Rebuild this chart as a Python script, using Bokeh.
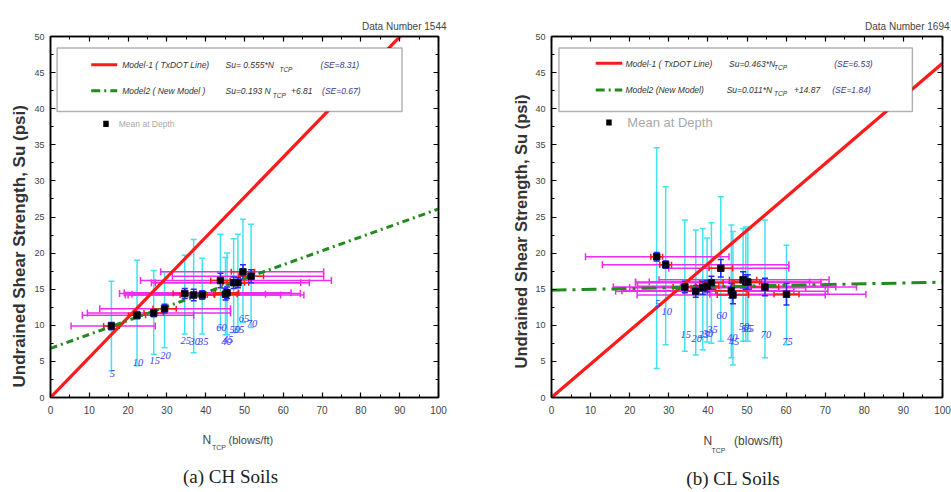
from bokeh.plotting import figure
from bokeh.layouts import row, column
from bokeh.models import (ColumnDataSource, Whisker, TeeHead, Label, LabelSet,
                          LinearAxis, Range1d, FixedTicker, CustomJSTickFormatter,
                          BoxAnnotation, Arrow, Title)
from bokeh.embed import file_html
from bokeh.resources import INLINE

FONT = "Liberation Sans"
SERIF = "Liberation Serif"

# ---------------- (a) CH soils ----------------
depth_ch = [5, 10, 15, 20, 25, 30, 35, 40, 45, 50, 55, 60, 65, 70]
n_ch = [15.7, 22.3, 26.6, 29.4, 34.6, 36.9, 39.1, 45.1, 45.5, 47.2, 48.3, 43.8, 49.6, 51.7]
su_ch = [9.9, 11.4, 11.7, 12.3, 14.4, 14.2, 14.2, 14.3, 14.5, 15.9, 15.9, 16.2, 17.4, 16.8]
su_lo_ch = [3.7, 4.4, 6.0, 6.9, 8.8, 6.2, 8.8, 8.7, 8.7, 9.0, 9.5, 9.7, 10.4, 9.7]
su_hi_ch = [16.1, 19.0, 17.6, 17.4, 19.7, 21.9, 19.3, 19.4, 20.0, 22.0, 22.6, 22.6, 24.7, 24.0]
n_lo_ch = [5.3, 8.2, 9.5, 12.7, 17.8, 19.3, 20.0, 21.0, 19.0, 26.0, 27.0, 23.2, 28.4, 31.4]
n_hi_ch = [27.0, 36.9, 46.4, 46.4, 64.4, 59.3, 65.3, 55.4, 62.0, 66.7, 64.5, 72.4, 70.4, 70.4]
n_se_ch = [2.0, 2.2, 2.5, 3.0, 3.0, 3.5, 3.2, 3.0, 3.0, 2.8, 2.8, 2.5, 3.0, 3.2]
su_se_ch = [0.5, 0.5, 0.5, 0.6, 0.7, 0.8, 0.6, 0.8, 0.8, 0.8, 0.7, 1.0, 1.0, 0.9]
m1_slope_ch = 0.555
m2_slope_ch, m2_icpt_ch = 0.193, 6.81

# ---------------- (b) CL soils ----------------
depth_cl = [5, 10, 15, 20, 25, 30, 35, 40, 45, 50, 55, 60, 65, 70, 75]
n_cl = [26.9, 29.2, 34.1, 36.9, 38.7, 39.8, 40.9, 46.0, 46.4, 49.0, 49.7, 43.3, 50.2, 54.6, 60.1]
su_cl = [19.5, 18.4, 15.3, 14.7, 15.2, 15.4, 15.9, 14.8, 14.2, 16.3, 16.0, 17.9, 16.0, 15.3, 14.3]
su_lo_cl = [4.0, 7.3, 6.4, 5.9, 6.6, 7.7, 7.5, 5.5, 4.5, 7.8, 7.8, 7.8, 7.8, 5.5, 7.3]
su_hi_cl = [34.6, 29.2, 24.6, 23.2, 23.4, 22.1, 24.2, 23.9, 23.0, 23.4, 23.6, 27.8, 23.2, 24.6, 21.1]
n_lo_cl = [8.7, 13.0, 15.8, 16.4, 20.0, 22.0, 21.5, 18.0, 21.9, 27.5, 21.5, 30.0, 25.0, 33.0, 40.5]
n_hi_cl = [45.4, 60.7, 72.7, 70.7, 65.0, 70.0, 68.9, 62.0, 70.0, 71.0, 68.9, 60.7, 66.0, 78.0, 80.4]
n_se_cl = [1.5, 1.5, 3.0, 3.0, 3.0, 3.0, 3.0, 4.0, 4.0, 3.5, 3.5, 3.0, 3.5, 3.5, 3.2]
su_se_cl = [0.6, 0.5, 0.8, 0.8, 0.9, 0.8, 0.9, 1.0, 1.2, 1.1, 1.0, 1.2, 1.0, 1.2, 1.5]
m1_slope_cl = 0.463
m2_slope_cl, m2_icpt_cl = 0.011, 14.87

x_ticks = list(range(0, 101, 10))
x_minor = list(range(0, 101, 5))
y_ticks = list(range(0, 51, 5))
y_minor = [v / 2 for v in range(0, 101, 5)]
n_line = [0, 100]

CYAN = "#3fe3f2"
MAGENTA = "#f02cf0"
RED = "#ff1a1a"
BLUE = "#2a2aff"
GREEN = "#238a1c"
TXT = "#333333"

MAIN_H = 422
CAP_H = 68


def style_axis(ax, ticks, minor, size):
    ax.ticker = FixedTicker(ticks=ticks, minor_ticks=minor)
    ax.axis_line_color = "black"
    ax.axis_line_width = 1.5
    ax.major_tick_in = 5
    ax.major_tick_out = 0
    ax.minor_tick_in = 3
    ax.minor_tick_out = 0
    ax.major_tick_line_color = "black"
    ax.minor_tick_line_color = "black"
    ax.major_tick_line_width = 1.2
    ax.major_label_text_font = FONT
    ax.major_label_text_font_size = size
    ax.major_label_text_color = "#444444"


def make_label(x, y, t, size="8.5px", color=TXT, style="italic", yo=0, align="left",
               font=FONT, xo=0):
    return Label(x=x, y=y, text=t, x_offset=xo, y_offset=yo, text_align=align,
                 text_baseline="middle", text_font=font, text_font_size=size,
                 text_color=color, text_font_style=style)


def panel(cfg):
    p = figure(width=cfg["w"], height=MAIN_H, x_range=Range1d(0, 100), y_range=Range1d(0, 50),
               output_backend="svg", toolbar_location=None,
               min_border_left=cfg["bl"], min_border_right=cfg["br"],
               min_border_top=cfg["bt"], min_border_bottom=MAIN_H - cfg["bt"] - 363)
    p.grid.visible = False
    p.outline_line_color = "black"
    p.outline_line_width = 1.5
    p.background_fill_color = "white"
    p.border_fill_color = "white"
    style_axis(p.xaxis[0], x_ticks, x_minor, "10px")
    style_axis(p.yaxis[0], y_ticks, y_minor, "9px")
    p.xaxis[0].major_label_standoff = 8
    p.yaxis[0].major_label_standoff = 6
    blank = CustomJSTickFormatter(code="return ''")
    top = LinearAxis(formatter=blank, major_label_standoff=0)
    style_axis(top, x_ticks, x_minor, "1px")
    p.add_layout(top, "above")
    rgt = LinearAxis(formatter=blank, major_label_standoff=0)
    style_axis(rgt, y_ticks, y_minor, "1px")
    p.add_layout(rgt, "right")

    # titles outside the frame
    p.add_layout(Title(text=cfg["dn"], align="right", offset=cfg["dn_off"], standoff=cfg["dn_so"],
                       vertical_align="top",
                       text_font=FONT, text_font_size="10px", text_font_style="normal",
                       text_color="#444444"), "above")
    p.add_layout(Title(text="Undrained Shear Strength, Su (psi)", align="left",
                       offset=cfg["yl_off"], standoff=6, text_font=FONT,
                       text_font_size=cfg["ylab_sz"], text_font_style="bold",
                       text_color="#333333"), "left")

    n, su = cfg["n"], cfg["su"]
    src = ColumnDataSource(dict(
        n=n, su=su, su_lo=cfg["su_lo"], su_hi=cfg["su_hi"],
        n_lo=cfg["n_lo"], n_hi=cfg["n_hi"],
        nse_lo=[a - b for a, b in zip(n, cfg["n_se"])],
        nse_hi=[a + b for a, b in zip(n, cfg["n_se"])],
        sse_lo=[a - b for a, b in zip(su, cfg["su_se"])],
        sse_hi=[a + b for a, b in zip(su, cfg["su_se"])],
        lab=[str(d) for d in cfg["depth"]]))

    def whisk(base, lo, hi, dim, color, size):
        w = Whisker(source=src, base=base, lower=lo, upper=hi, dimension=dim,
                    line_color=color, line_width=1.5, level="underlay",
                    upper_head=TeeHead(size=size, line_color=color, line_width=1.5),
                    lower_head=TeeHead(size=size, line_color=color, line_width=1.5))
        p.add_layout(w)

    whisk("n", "su_lo", "su_hi", "height", CYAN, 6)
    whisk("su", "n_lo", "n_hi", "width", MAGENTA, 7)
    whisk("su", "nse_lo", "nse_hi", "width", RED, 6)
    whisk("n", "sse_lo", "sse_hi", "height", BLUE, 6)

    # model lines
    p.line(n_line, [cfg["m1"] * v for v in n_line], line_color=RED, line_width=3.2)
    p.line(n_line, [cfg["m2s"] * v + cfg["m2i"] for v in n_line], line_color=GREEN,
           line_width=3, line_dash=cfg["dash"])

    p.scatter("n", "su", source=src, marker="square", size=6.5, fill_color="black",
              line_color="#101040")
    p.add_layout(LabelSet(x="n", y="su", text="lab", source=src, x_offset=1, y_offset=-47,
                          text_align="center", text_baseline="middle",
                          text_font=FONT, text_font_size="10.5px", text_font_style="italic",
                          text_color="#3c3cff"))

    # legend box
    lg = cfg["leg"]
    p.add_layout(BoxAnnotation(left=lg["box"][0], right=lg["box"][1], bottom=lg["box"][2],
                               top=lg["box"][3], fill_color="white", fill_alpha=1.0,
                               line_color="black", line_width=1.5))
    p.add_layout(Arrow(start=None, end=None, x_start=lg["sx"][0], x_end=lg["sx"][1],
                       y_start=lg["y1"], y_end=lg["y1"], line_color=RED, line_width=3))
    p.add_layout(Arrow(start=None, end=None, x_start=lg["sx"][0], x_end=lg["sx"][1],
                       y_start=lg["y2"], y_end=lg["y2"], line_color=GREEN, line_width=3,
                       line_dash="9 4 2 4"))

    for (x, y, t, kind) in lg["texts"]:
        if kind == "sub":
            p.add_layout(make_label(x, y, t, size="6.5px", yo=-4))
        elif kind == "se":
            p.add_layout(make_label(x, y, t, color="#3a3a8a"))
        else:
            p.add_layout(make_label(x, y, t))

    # Mean at depth
    mx, my = lg["mean"]
    p.add_layout(BoxAnnotation(left=mx - 0.7, right=mx + 0.7, bottom=my - 0.42,
                               top=my + 0.42, fill_color="black", fill_alpha=1.0,
                               line_color=None))
    p.add_layout(make_label(lg["mean_tx"], my, "Mean at Depth", size=lg["mean_sz"],
                            color="#a8a8a8", style="normal"))
    return p


def caption_panel(cfg, p):
    c = figure(width=cfg["w"], height=CAP_H, x_range=p.x_range, y_range=Range1d(0, CAP_H),
               output_backend="svg", toolbar_location=None,
               x_axis_type=None, y_axis_type=None,
               min_border_left=cfg["bl"], min_border_right=cfg["br"],
               min_border_top=0, min_border_bottom=0)
    c.grid.visible = False
    c.outline_line_color = None
    c.background_fill_color = "white"
    c.border_fill_color = "white"
    xl = cfg["xlab"]
    c.add_layout(make_label(xl[0], xl[4], "N", size="12px", color="#444444", style="normal"))
    c.add_layout(make_label(xl[1], xl[5], "TCP", size="7px", color="#444444", style="normal"))
    c.add_layout(make_label(xl[2], xl[4], "(blows/ft)", size=xl[3], color="#444444",
                            style="normal"))
    c.add_layout(make_label(cfg["cap_x"], cfg["cap_y"], cfg["cap"], size="19px",
                            color="#222222", style="normal", align="center", font=SERIF))
    return c


cfg_ch = dict(
    w=480, bl=50, br=42, bt=34,
    depth=depth_ch, n=n_ch, su=su_ch, su_lo=su_lo_ch, su_hi=su_hi_ch,
    n_lo=n_lo_ch, n_hi=n_hi_ch, n_se=n_se_ch, su_se=su_se_ch,
    m1=m1_slope_ch, m2s=m2_slope_ch, m2i=m2_icpt_ch, dash="7 4 2 4",
    leg=dict(box=(1.7, 90.6, 39.6, 48.4), sx=(10.5, 17.2), y1=46.1, y2=42.5,
             texts=[(18.5, 46.0, "Model-1 ( TxDOT Line)", "t"),
                    (45.1, 46.0, "Su= 0.555*N", "t"),
                    (59.0, 46.0, "TCP", "sub"),
                    (69.6, 46.0, "(SE=8.31)", "se"),
                    (18.5, 42.4, "Model2 ( New Model )", "t"),
                    (45.1, 42.4, "Su=0.193 N", "t"),
                    (57.3, 42.4, "TCP", "sub"),
                    (62.0, 42.4, "+6.81", "t"),
                    (70.0, 42.4, "(SE=0.67)", "se")],
             mean=(14.3, 37.9), mean_tx=17.6, mean_sz="8.5px"),
    dn="Data Number 1544", dn_off=-8, dn_so=6,
    yl_off=10, ylab_sz="17px",
    xlab=(39.2, 41.6, 45.9, "11px", 51, 43),
    cap="(a) CH Soils", cap_x=46.4, cap_y=14)

cfg_cl = dict(
    w=471, bl=71, br=9, bt=36,
    depth=depth_cl, n=n_cl, su=su_cl, su_lo=su_lo_cl, su_hi=su_hi_cl,
    n_lo=n_lo_cl, n_hi=n_hi_cl, n_se=n_se_cl, su_se=su_se_cl,
    m1=m1_slope_cl, m2s=m2_slope_cl, m2i=m2_icpt_cl, dash="15 6 3 6",
    leg=dict(box=(1.9, 92.3, 39.6, 48.4), sx=(11.3, 18.1), y1=46.3, y2=42.6,
             texts=[(18.9, 46.2, "Model-1 ( TxDOT Line)", "t"),
                    (45.4, 46.2, "Su=0.463*N", "t"),
                    (56.9, 46.2, "TCP", "sub"),
                    (72.3, 46.2, "(SE=6.53)", "se"),
                    (18.9, 42.6, "Model2 (New Model)", "t"),
                    (44.8, 42.6, "Su=0.011*N", "t"),
                    (56.9, 42.6, "TCP", "sub"),
                    (62.0, 42.6, "+14.87", "t"),
                    (71.8, 42.6, "(SE=1.84)", "se")],
             mean=(14.7, 38.1), mean_tx=19.4, mean_sz="13px"),
    dn="Data Number 1694", dn_off=-7, dn_so=5,
    yl_off=29, ylab_sz="16.5px",
    xlab=(38.9, 40.9, 46.7, "12px", 50, 40),
    cap="(b) CL Soils", cap_x=46.5, cap_y=12)

p1 = panel(cfg_ch)
p2 = panel(cfg_cl)
c1 = caption_panel(cfg_ch, p1)
c2 = caption_panel(cfg_cl, p2)
layout = column(row(p1, p2), row(c1, c2))

with open("out.html", "w") as f:
    f.write(file_html(layout, INLINE))
